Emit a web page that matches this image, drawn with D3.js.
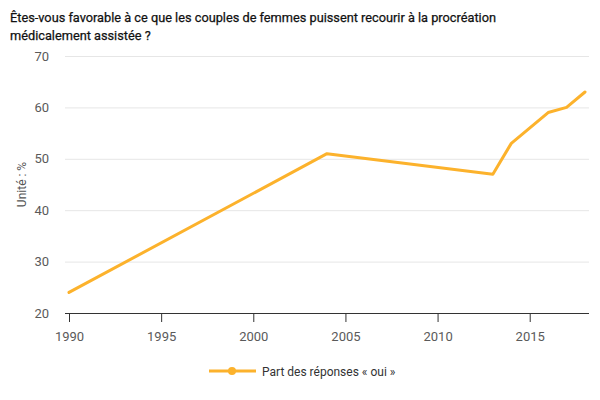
<!DOCTYPE html>
<html>
<head>
<meta charset="utf-8">
<script src="https://cdn.jsdelivr.net/npm/d3@7"></script>
<style>
  body { margin: 0; background: #fff; }
  svg { font-family: Roboto, "Noto Sans", sans-serif; }
</style>
</head>
<body>
<script>
// chart data
var years = [1990, 2004, 2013, 2014, 2016, 2017, 2018];
var oui = [24, 51, 47, 53, 59, 60, 63];
var yTicks = [20, 30, 40, 50, 60, 70];
var xTicks = [1990, 1995, 2000, 2005, 2010, 2015];
var titleLines = ["Êtes-vous favorable à ce que les couples de femmes puissent recourir à la procréation",
                  "médicalement assistée ?"];
var seriesName = "Part des réponses « oui »";
var yLabel = "Unité : %";

var color = "#fcb22c";
var W = 600, H = 400;
var mLeft = 65, mRight = 589, mTop = 56, mBottom = 313;

var svg = d3.select("body").append("svg")
            .attr("width", W)
            .attr("height", H);

var x = d3.scaleLinear().domain([1990, 2018]).range([69, 585]);
var y = d3.scaleLinear().domain([20, 70]).range([mBottom, mTop]);

// title
svg.selectAll(".title").data(titleLines).enter().append("text")
   .attr("x", 10)
   .attr("y", function(d, i){ return 22 + i * 18; })
   .attr("font-size", 12.75)
   .attr("fill", "#111")
   .attr("stroke", "#111")
   .attr("stroke-width", 0.25)
   .text(function(d){ return d; });

// grid + y labels
var yAxis = svg.append("g")
               .attr("transform", "translate(" + mLeft + ",0)")
               .call(d3.axisLeft(y).tickValues(yTicks).tickSize(-(mRight - mLeft)).tickPadding(16));
yAxis.select(".domain").remove();
yAxis.selectAll(".tick line").attr("stroke", "#e6e6e6");
yAxis.selectAll(".tick text").attr("font-size", 13).attr("fill", "#5a5a5a")
     .attr("font-family", "Roboto, sans-serif");

svg.append("text")
   .attr("transform", "translate(26," + ((mTop + mBottom) / 2) + ") rotate(-90)")
   .attr("text-anchor", "middle")
   .attr("font-size", 12)
   .attr("fill", "#555")
   .text(yLabel);

// x axis
var xAxis = svg.append("g")
               .attr("transform", "translate(0," + mBottom + ")")
               .call(d3.axisBottom(x).tickValues(xTicks).tickFormat(d3.format("d")).tickSize(9).tickSizeOuter(0).tickPadding(10));
xAxis.select(".domain").attr("d", "M" + mLeft + ",0.5H" + mRight).attr("stroke", "#333");
xAxis.selectAll(".tick line").attr("stroke", "#333");
xAxis.selectAll(".tick text").attr("font-size", 13).attr("fill", "#5a5a5a")
     .attr("font-family", "Roboto, sans-serif");

// line
var line = d3.line()
             .x(function(d, i){ return x(years[i]); })
             .y(function(d){ return y(d); });

svg.append("path")
   .datum(oui)
   .attr("d", line)
   .attr("fill", "none")
   .attr("stroke", color)
   .attr("stroke-width", 3)
   .attr("stroke-linejoin", "round")
   .attr("stroke-linecap", "round");

// legend
var lg = svg.append("g").attr("transform", "translate(0,371)");
lg.append("line").attr("x1", 209).attr("x2", 256).attr("y1", 0).attr("y2", 0)
  .attr("stroke", color).attr("stroke-width", 3);
lg.append("circle").attr("cx", 232).attr("cy", 0).attr("r", 4).attr("fill", color);
lg.append("text").attr("x", 262).attr("y", 4.5)
  .attr("font-size", 12).attr("fill", "#333")
  .text(seriesName);
</script>
</body>
</html>
